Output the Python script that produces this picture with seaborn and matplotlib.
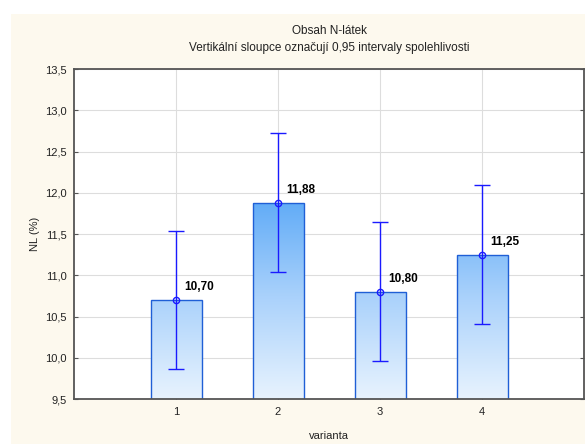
import numpy as np
import pandas as pd
import matplotlib
matplotlib.use("Agg")
import matplotlib.pyplot as plt
import seaborn as sns
from matplotlib.colors import LinearSegmentedColormap
from matplotlib.patches import Rectangle

categories = ["1", "2", "3", "4"]
means = [10.70, 11.88, 10.80, 11.25]
ci_low = [9.86, 11.04, 9.96, 10.41]
ci_high = [11.54, 12.72, 11.64, 12.09]
yticks = [9.5, 10.0, 10.5, 11.0, 11.5, 12.0, 12.5, 13.0, 13.5]

sns.set_theme(style="white")
plt.rcParams['font.family'] = ['Liberation Sans', 'DejaVu Sans']

df = pd.DataFrame({"varianta": categories, "NL": means})

W, H = 585, 444
fig = plt.figure(figsize=(5.85, 4.44), dpi=100)
fig.patch.set_facecolor("white")
bg = Rectangle((11 / W, 0), 1 - 11 / W, 1 - 14 / H, transform=fig.transFigure,
               facecolor="#fdf9ee", edgecolor="none", zorder=-10)
fig.add_artist(bg)
ax = fig.add_axes([74 / W, 45 / H, 510 / W, 330 / H])
ax.set_zorder(1)
ax.set_facecolor("white")

sns.barplot(data=df, x="varianta", y="NL", ax=ax, width=0.5,
            errorbar=None, facecolor="none", edgecolor="#1f5fd6", linewidth=1.0)

cmap = LinearSegmentedColormap.from_list("g", ["#e8f3fe", "#a9d1fb", "#5aa8f7"])
grad = np.linspace(0, 1, 256).reshape(-1, 1)
for p in ax.patches:
    im = ax.imshow(grad, cmap=cmap, origin="lower", aspect="auto",
                   extent=(-1, 4, 9.5, 12.0), zorder=1.5, interpolation="bilinear")
    im.set_clip_path(p)
    p.set_zorder(2)
ax.set_xlim(-1, 4)
ax.set_ylim(9.5, 13.5)

x = np.arange(len(categories))
yerr = np.array([np.array(means) - np.array(ci_low), np.array(ci_high) - np.array(means)])
ax.errorbar(x, means, yerr=yerr, fmt="o", color="#1a1aff", ecolor="#1a1aff",
            elinewidth=1.0, capsize=6, capthick=1.0, markersize=4.5,
            markerfacecolor="none", markeredgewidth=1.0, zorder=4)

for xi, m in zip(x, means):
    ax.annotate(f"{m:.2f}".replace(".", ","), (xi, m), xytext=(6, 5),
                textcoords="offset points", fontsize=8.5, fontweight="bold",
                color="black", ha="left", va="bottom", zorder=5)

ax.set_yticks(yticks)
ax.set_yticklabels([f"{v:.1f}".replace(".", ",") for v in yticks])
ax.grid(True, color="#dddddd", linewidth=0.8)
ax.set_axisbelow(True)
for s in ["left", "bottom", "top", "right"]:
    ax.spines[s].set_color("#555555")
    ax.spines[s].set_linewidth(1.3)
ax.tick_params(axis="both", direction="in", length=3, width=0.8, color="#555555",
               labelsize=8, labelcolor="#222222", right=True, left=True, bottom=True)
ax.tick_params(axis="y", pad=5)
ax.tick_params(axis="x", pad=6)

ax.set_xlabel("varianta", fontsize=8, color="#222222", labelpad=10)
ax.set_ylabel("NL (%)", fontsize=8, color="#222222", labelpad=4)
ax.set_title("Obsah N-látek\nVertikální sloupce označují 0,95 intervaly spolehlivosti",
             fontsize=8.5, color="#222222", pad=13, linespacing=1.6)

fig.savefig("out.png", dpi=100, facecolor=fig.get_facecolor())
